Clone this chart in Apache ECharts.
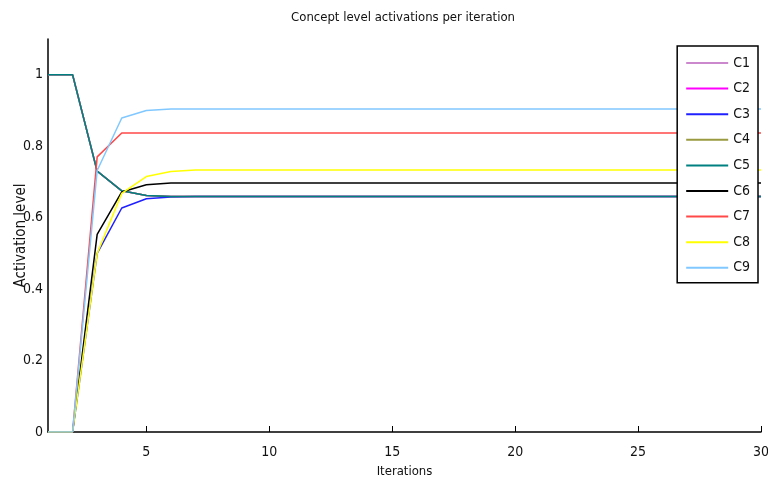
<!DOCTYPE html>
<html>
<head>
<meta charset="utf-8">
<script src="https://cdn.jsdelivr.net/npm/echarts@6/dist/echarts.min.js"></script>
<style>
  html, body { margin: 0; padding: 0; background: #fff; }
  #main { width: 768px; height: 484px; }
</style>
</head>
<body>
<div id="main"></div>
<script>
// iterations 1..30
var iterations = [];
for (var i = 1; i <= 30; i++) iterations.push(i);

var xTicks = [5, 10, 15, 20, 25, 30];
var yTicks = [0, 0.2, 0.4, 0.6, 0.8, 1];

// concept activations
var c1 = [1, 1, 0.73, 0.675, 0.662, 0.659, 0.659, 0.659, 0.659, 0.659, 0.659, 0.659, 0.659, 0.659, 0.659, 0.659, 0.659, 0.659, 0.659, 0.659, 0.659, 0.659, 0.659, 0.659, 0.659, 0.659, 0.659, 0.659, 0.659, 0.659];
var c2 = [1, 1, 0.73, 0.675, 0.662, 0.659, 0.659, 0.659, 0.659, 0.659, 0.659, 0.659, 0.659, 0.659, 0.659, 0.659, 0.659, 0.659, 0.659, 0.659, 0.659, 0.659, 0.659, 0.659, 0.659, 0.659, 0.659, 0.659, 0.659, 0.659];
var c3 = [0, 0, 0.5, 0.627, 0.653, 0.658, 0.659, 0.659, 0.659, 0.659, 0.659, 0.659, 0.659, 0.659, 0.659, 0.659, 0.659, 0.659, 0.659, 0.659, 0.659, 0.659, 0.659, 0.659, 0.659, 0.659, 0.659, 0.659, 0.659, 0.659];
var c4 = [1, 1, 0.73, 0.675, 0.662, 0.659, 0.659, 0.659, 0.659, 0.659, 0.659, 0.659, 0.659, 0.659, 0.659, 0.659, 0.659, 0.659, 0.659, 0.659, 0.659, 0.659, 0.659, 0.659, 0.659, 0.659, 0.659, 0.659, 0.659, 0.659];
var c5 = [1, 1, 0.73, 0.675, 0.662, 0.659, 0.659, 0.659, 0.659, 0.659, 0.659, 0.659, 0.659, 0.659, 0.659, 0.659, 0.659, 0.659, 0.659, 0.659, 0.659, 0.659, 0.659, 0.659, 0.659, 0.659, 0.659, 0.659, 0.659, 0.659];
var c6 = [0, 0, 0.553, 0.672, 0.692, 0.697, 0.697, 0.697, 0.697, 0.697, 0.697, 0.697, 0.697, 0.697, 0.697, 0.697, 0.697, 0.697, 0.697, 0.697, 0.697, 0.697, 0.697, 0.697, 0.697, 0.697, 0.697, 0.697, 0.697, 0.697];
var c7 = [0, 0, 0.77, 0.837, 0.837, 0.837, 0.837, 0.837, 0.837, 0.837, 0.837, 0.837, 0.837, 0.837, 0.837, 0.837, 0.837, 0.837, 0.837, 0.837, 0.837, 0.837, 0.837, 0.837, 0.837, 0.837, 0.837, 0.837, 0.837, 0.837];
var c8 = [0, 0, 0.5, 0.668, 0.715, 0.729, 0.733, 0.733, 0.733, 0.733, 0.733, 0.733, 0.733, 0.733, 0.733, 0.733, 0.733, 0.733, 0.733, 0.733, 0.733, 0.733, 0.733, 0.733, 0.733, 0.733, 0.733, 0.733, 0.733, 0.733];
var c9 = [0, 0, 0.732, 0.879, 0.9, 0.904, 0.904, 0.904, 0.904, 0.904, 0.904, 0.904, 0.904, 0.904, 0.904, 0.904, 0.904, 0.904, 0.904, 0.904, 0.904, 0.904, 0.904, 0.904, 0.904, 0.904, 0.904, 0.904, 0.904, 0.904];

var names = ["C1", "C2", "C3", "C4", "C5", "C6", "C7", "C8", "C9"];
var values = [c1, c2, c3, c4, c5, c6, c7, c8, c9];
var colors = ["#cc88cc", "#ff00ff", "#2020ff", "#9a9a40", "#008080", "#000000", "#ff4848", "#ffff00", "#80c8ff"];

var font = "'DejaVu Sans Condensed', 'Liberation Sans', Arial, sans-serif";

var chart = echarts.init(document.getElementById("main"));

var series = names.map(function (n, k) {
  return {
    name: n,
    type: "line",
    showSymbol: false,
    symbol: "none",
    data: iterations.map(function (x, j) { return [x, values[k][j]]; }),
    lineStyle: { width: 1.5, color: colors[k] },
    itemStyle: { color: colors[k] }
  };
});

chart.setOption({
  animation: false,
  backgroundColor: "#fff",
  textStyle: { fontFamily: font },
  grid: { left: 48, right: 7, top: 39, bottom: 52, containLabel: false, outerBoundsMode: "none" },
  graphic: [{
    type: "text",
    x: 403,
    y: 18,
    style: {
      text: "Concept level activations per iteration",
      fontFamily: font,
      fontSize: 13,
      fill: "#111",
      textAlign: "center",
      textVerticalAlign: "middle"
    }
  }],
  legend: {
    orient: "vertical",
    right: 10,
    top: 46,
    icon: "rect",
    itemWidth: 42,
    itemHeight: 2,
    itemGap: 9.6,
    padding: [9, 8, 7, 9],
    borderColor: "#000",
    borderWidth: 1.5,
    backgroundColor: "#fff",
    textStyle: { fontFamily: font, fontSize: 14, color: "#111", lineHeight: 16 },
    data: names
  },
  xAxis: {
    type: "value",
    min: 1,
    max: 30,
    name: "Iterations",
    nameLocation: "middle",
    nameGap: 33,
    nameTextStyle: { fontFamily: font, fontSize: 13, color: "#111" },
    splitLine: { show: false },
    axisLine: { lineStyle: { color: "#000", width: 1.5 } },
    axisTick: { inside: true, length: 6, customValues: xTicks, lineStyle: { color: "#000" } },
    axisLabel: { customValues: xTicks, margin: 13, fontSize: 14, color: "#111" }
  },
  yAxis: {
    type: "value",
    min: 0,
    max: 1.1,
    name: "Activation level",
    nameLocation: "middle",
    nameRotate: 90,
    nameGap: 19,
    nameMoveOverlap: false,
    nameTextStyle: { fontFamily: font, fontSize: 15, color: "#111" },
    splitLine: { show: false },
    axisLine: { show: true, lineStyle: { color: "#000", width: 1.5 } },
    axisTick: { show: false, customValues: yTicks },
    axisLabel: { customValues: yTicks, margin: 5, fontSize: 14, color: "#111" }
  },
  series: series
});
</script>
</body>
</html>
